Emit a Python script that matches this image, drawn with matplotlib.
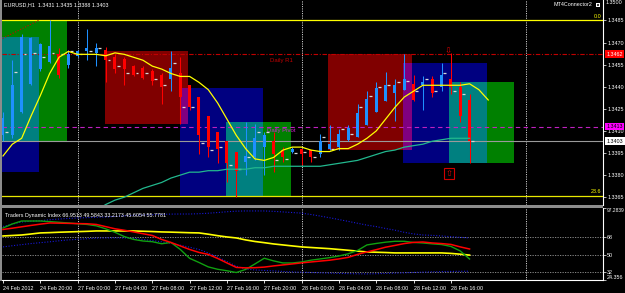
import numpy as np
import pandas as pd
import matplotlib
matplotlib.use('Agg')
import matplotlib.pyplot as plt
from matplotlib.patches import Rectangle
from matplotlib import transforms

plt.rcParams['font.family'] = ['Liberation Sans', 'DejaVu Sans']

# ---- data -------------------------------------------------------------
# H1 bars, 24 Feb 16:00 .. 28 Feb 18:00 (weekend skipped)
times = list(pd.date_range('2012-02-24 16:00', periods=8, freq='h')) + \
        list(pd.date_range('2012-02-27 00:00', periods=43, freq='h'))

opens = [1.3407, 1.3407, 1.3423, 1.3442, 1.3452, 1.3457, 1.3462, 1.3455, 1.3461, 1.3464,
         1.3463, 1.3465, 1.3460, 1.3459, 1.3454, 1.3453, 1.3451, 1.3448, 1.3445, 1.3449,
         1.3441, 1.3433, 1.3420, 1.3409, 1.3403, 1.3396, 1.3389, 1.3392, 1.3399, 1.3403,
         1.3397, 1.3396, 1.3398, 1.3397, 1.3394, 1.3398, 1.3399, 1.3404, 1.3406, 1.3414,
         1.3423, 1.3430, 1.3436, 1.3438, 1.3442, 1.3441, 1.3445, 1.3440, 1.3445, 1.3440,
         1.3431]
highs = [1.3423, 1.3458, 1.3476, 1.3474, 1.3470, 1.3485, 1.3466, 1.3465, 1.3465, 1.3479,
         1.3470, 1.3467, 1.3462, 1.3460, 1.3455, 1.3454, 1.3452, 1.3449, 1.3464, 1.3460,
         1.3441, 1.3433, 1.3420, 1.3409, 1.3403, 1.3396, 1.3416, 1.3415, 1.3409, 1.3409,
         1.3399, 1.3399, 1.3398, 1.3397, 1.3408, 1.3414, 1.3411, 1.3414, 1.3428, 1.3437,
         1.3443, 1.3450, 1.3445, 1.3462, 1.3448, 1.3447, 1.3447, 1.3456, 1.3463, 1.3443,
         1.3435]
lows = [1.3403, 1.3405, 1.3422, 1.3441, 1.3451, 1.3456, 1.3446, 1.3453, 1.3460, 1.3458,
        1.3454, 1.3443, 1.3449, 1.3441, 1.3447, 1.3445, 1.3441, 1.3428, 1.3437, 1.3415,
        1.3424, 1.3394, 1.3392, 1.3388, 1.3375, 1.3365, 1.3380, 1.3390, 1.3380, 1.3382,
        1.3389, 1.3395, 1.3387, 1.3389, 1.3392, 1.3397, 1.3397, 1.3403, 1.3406, 1.3414,
        1.3423, 1.3430, 1.3417, 1.3438, 1.3430, 1.3424, 1.3433, 1.3437, 1.3435, 1.3416,
        1.3388]
closes = [1.3419, 1.3441, 1.3474, 1.3473, 1.3469, 1.3468, 1.3448, 1.3462, 1.3464, 1.3466,
          1.3466, 1.3458, 1.3452, 1.3452, 1.3448, 1.3446, 1.3444, 1.3440, 1.3453, 1.3433,
          1.3426, 1.3407, 1.3399, 1.3398, 1.3388, 1.3383, 1.3393, 1.3405, 1.3407, 1.3394,
          1.3392, 1.3398, 1.3394, 1.3392, 1.3403, 1.3401, 1.3408, 1.3412, 1.3422, 1.3432,
          1.3439, 1.3441, 1.3441, 1.3445, 1.3431, 1.3443, 1.3436, 1.3448, 1.3440, 1.3420,
          1.3403]
# little grey ticks drawn next to the candles by some indicator
marks = [1.3409, 1.3450, 1.3462, 1.3463, 1.3460, 1.3463, 1.3462, 1.3464, 1.3462, 1.3464,
         1.3466, 1.3458, 1.3454, 1.3449, 1.3449, 1.3449, 1.3445, 1.3441, 1.3456, 1.3426,
         1.3426, 1.3402, 1.3397, 1.3399, 1.3387, 1.3384, 1.3392, 1.3409, 1.3409, 1.3390,
         1.3391, 1.3395, 1.3396, 1.3392, 1.3406, 1.3398, 1.3411, 1.3408, 1.3426, 1.3434,
         1.3440, 1.3441, 1.3443, 1.3444, 1.3437, 1.3445, 1.3437, 1.3449, 1.3437, 1.3435,
         1.3403]

# yellow MA is shifted 2 bars forward
fast_ma = [1.3393, 1.3401, 1.3405, 1.3420, 1.3434, 1.3449, 1.3460, 1.3464, 1.3462, 1.3462,
           1.3462, 1.3461, 1.3463, 1.3462, 1.3460, 1.3458, 1.3454, 1.3452, 1.3449, 1.3447,
           1.3447, 1.3443, 1.3438, 1.3429, 1.3418, 1.3407, 1.3398, 1.3391, 1.3390, 1.3392,
           1.3397, 1.3399, 1.3399, 1.3397, 1.3396, 1.3396, 1.3398, 1.3398, 1.3401, 1.3405,
           1.3410, 1.3418, 1.3426, 1.3433, 1.3437, 1.3441, 1.3441, 1.3441, 1.3441, 1.3441,
           1.3442, 1.3438, 1.3431]
slow_start = 10
slow_ma = [1.3356, 1.3360, 1.3363, 1.3365, 1.3368, 1.3371, 1.3373, 1.3375, 1.3378, 1.3380,
           1.3382, 1.3382, 1.3383, 1.3383, 1.3384, 1.3384, 1.3384, 1.3385, 1.3385, 1.3386,
           1.3386, 1.3386, 1.3386, 1.3386, 1.3386, 1.3387, 1.3388, 1.3389, 1.3390, 1.3392,
           1.3394, 1.3396, 1.3397, 1.3399, 1.3400, 1.3401, 1.3403, 1.3404, 1.3405, 1.3405,
           1.3405]

# supply / demand boxes: (first bar, last bar, top, bottom, colour)
zones = [(-0.2, 6.9, 1.3485, 1.3403, '#008000'),
         (-0.2, 3.9, 1.3474, 1.3382, '#000080'),
         (10.9, 19.8, 1.3464, 1.3415, '#800000'),
         (19.0, 27.9, 1.3439, 1.3365, '#000080'),
         (23.9, 30.9, 1.3416, 1.3365, '#008000'),
         (34.8, 43.8, 1.3462, 1.3397, '#800000'),
         (42.9, 51.9, 1.3456, 1.3388, '#000080'),
         (47.8, 54.8, 1.3443, 1.3388, '#008000')]

fib_0, fib_236 = 1.3485, 1.3366
daily_r1, daily_pivot, bid = 1.3462, 1.3413, 1.3403
trend_x, trend_y = [-0.3, 3.8], [1.3472, 1.3485]
price_ticks = [1.3485, 1.3470, 1.3455, 1.3440, 1.3425, 1.3410, 1.3395, 1.3380, 1.3365]

# Traders Dynamic Index
tdi_up = [78.7, 81.0, 83.2, 84.0, 84.5, 85.5, 86.2, 86.8, 87.3, 87.6,
          88.0, 88.3, 88.8, 89.4, 90.0, 90.3, 90.6, 90.9, 91.2, 91.3,
          91.3, 91.6, 92.1, 92.8, 93.6, 94.2, 94.4, 94.4, 94.4, 94.0,
          93.4, 92.8, 92.2, 90.8, 89.2, 87.5, 85.7, 83.8, 81.9, 80.0,
          78.5, 76.6, 74.9, 72.7, 71.1, 70.0, 69.6, 69.0, 68.3, 67.6, 66.95]
tdi_mid = [69.0, 69.5, 70.0, 71.0, 72.1, 72.4, 72.8, 73.1, 73.4, 73.7,
           74.1, 74.1, 74.1, 74.1, 74.1, 73.8, 73.5, 73.1, 72.9, 72.6,
           72.3, 72.1, 70.8, 69.3, 68.0, 67.0, 65.0, 63.4, 62.2, 60.9,
           59.9, 58.9, 57.9, 57.3, 56.7, 56.1, 55.3, 54.5, 53.6, 52.8,
           52.5, 52.2, 51.8, 51.8, 51.8, 51.8, 51.8, 51.8, 51.3, 50.5, 49.58]
tdi_dn = [57.9, 59.1, 60.2, 61.3, 62.2, 63.1, 64.1, 65.0, 65.6, 66.2,
          66.8, 67.0, 67.0, 67.0, 66.5, 65.5, 64.3, 63.1, 61.6, 59.6,
          57.6, 55.3, 51.8, 47.7, 43.0, 38.4, 35.4, 34.5, 34.0, 33.5,
          33.0, 32.5, 32.2, 31.9, 31.6, 31.3, 31.0, 30.8, 30.6, 30.5,
          30.7, 31.0, 31.3, 31.6, 32.0, 32.3, 32.6, 32.8, 33.0, 33.1, 33.22]
tdi_rsi = [77.1, 81.2, 84.2, 84.2, 84.2, 83.6, 82.9, 82.2, 81.4, 80.7,
           79.3, 76.3, 72.7, 68.4, 65.5, 63.9, 63.2, 61.1, 62.4, 55.3,
           46.3, 42.1, 37.6, 35.2, 33.7, 31.9, 35.0, 40.6, 46.4, 43.7,
           41.6, 41.6, 42.6, 44.4, 45.7, 47.0, 48.7, 50.9, 54.3, 59.9,
           61.4, 62.7, 63.6, 63.6, 62.4, 61.9, 61.0, 60.3, 58.4, 53.8, 45.61]
tdi_sig = [75.6, 76.9, 78.3, 79.7, 81.0, 82.2, 82.0, 81.8, 81.6, 81.4,
           80.7, 78.5, 76.3, 74.8, 73.1, 71.3, 69.5, 65.5, 62.4, 58.9,
           55.3, 52.3, 50.3, 46.2, 41.6, 37.1, 36.6, 36.8, 37.4, 38.6,
           39.6, 40.6, 41.7, 42.6, 43.5, 44.4, 45.7, 47.3, 50.3, 52.8,
           55.1, 57.6, 59.4, 61.3, 62.5, 62.9, 61.9, 61.3, 60.4, 57.9, 55.78]
tdi_levels = [68, 50, 32]

# ---- figure -----------------------------------------------------------
W, H = 625, 293
fig = plt.figure(figsize=(W / 100, H / 100), dpi=100, facecolor='black')


def px_axes(x0, y0, x1, y1):
    return fig.add_axes([x0 / W, 1 - y1 / H, (x1 - x0) / W, (y1 - y0) / H])


def px_rect(x0, y0, x1, y1, color):
    fig.add_artist(Rectangle((x0 / W, 1 - y1 / H), (x1 - x0) / W, (y1 - y0) / H,
                             transform=fig.transFigure, color=color, lw=0))


ax = px_axes(2, 0, 603, 205)
ax2 = px_axes(2, 208, 603, 280)
XLIM = (-0.107, 64.3)
SMALL = 3.9
BLUE, RED = '#1e90ff', '#ff0000'

for a in (ax, ax2):
    a.set_facecolor('black')
    a.set_xlim(*XLIM)
    for s in a.spines.values():
        s.set_visible(False)
    a.spines['right'].set_visible(True)
    a.spines['right'].set_color('white')
    a.spines['right'].set_linewidth(0.8)
    a.yaxis.tick_right()
    a.tick_params(axis='y', colors='white', labelsize=SMALL, length=2.2, width=0.5, pad=0.8)
    # day separators
    for i, t in enumerate(times):
        if t.hour == 0:
            a.axvline(i, color='#c8c8c8', lw=0.7, ls=(0, (1.2, 1.2)), zorder=1)
    a.axvline(56, color='#c8c8c8', lw=0.7, ls=(0, (1.2, 1.2)), zorder=1)

ax.set_ylim(1.33597, 1.34989)
ax.set_xticks([])

# boxes, overlaps get the OR-ed colour like MT4 does
for k, (x0, x1, top, bot, colr) in enumerate(zones):
    ax.add_patch(Rectangle((x0, bot), x1 - x0, top - bot, color=colr, lw=0, zorder=1))
for k in range(len(zones)):
    for j in range(k + 1, len(zones)):
        a0, a1, at, ab, ac = zones[k]
        b0, b1, bt, bb, bc = zones[j]
        lo_x, hi_x = max(a0, b0), min(a1, b1)
        lo_y, hi_y = max(ab, bb), min(at, bt)
        if lo_x < hi_x and lo_y < hi_y:
            mix = '#%06x' % (int(ac[1:], 16) | int(bc[1:], 16))
            ax.add_patch(Rectangle((lo_x, lo_y), hi_x - lo_x, hi_y - lo_y,
                                   color=mix, lw=0, zorder=1.1))

# levels
ax.axhline(fib_0, color='#ffff00', lw=0.9, zorder=2)
ax.axhline(fib_236, color='#e8e800', lw=0.9, zorder=2)
ax.axhline(daily_r1, color='#c00000', lw=0.8, ls=(0, (4, 1.5, 1, 1.5)), zorder=2)
ax.axhline(daily_pivot, color='#c020c0', lw=0.8, ls=(0, (4, 3)), zorder=2)
ax.axhline(bid, color='#9a9a9a', lw=0.8, zorder=2)
ax.plot(trend_x, trend_y, color='#d00000', lw=0.8, ls=(0, (1, 1.5)), zorder=2)

blend = transforms.blended_transform_factory(ax.transAxes, ax.transData)
ax.text(0.997, fib_0 + 0.00012, '0.0', transform=blend, ha='right', va='bottom',
        color='#ffff00', fontsize=SMALL)
ax.text(0.997, fib_236 + 0.00012, '23.6', transform=blend, ha='right', va='bottom',
        color='#ffff00', fontsize=SMALL)
ax.text(28.6, daily_r1 - 0.0004, 'Daily R1', color='#c00000', fontsize=4.3,
        ha='left', va='center', zorder=3)
ax.text(28.3, daily_pivot - 0.0003, 'Daily Pivot', color='#d020d0', fontsize=4.3,
        ha='left', va='center', zorder=3)

# candles
idx = np.arange(len(opens))
o, h, l, c = map(np.array, (opens, highs, lows, closes))
col = np.where(c >= o, BLUE, RED)
ax.vlines(idx, l, h, colors=col, lw=0.75, zorder=4)
body_lo = np.minimum(o, c)
body_h = np.maximum(np.abs(c - o), 0.00008)
ax.bar(idx, body_h, 0.32, bottom=body_lo, color=col, lw=0, zorder=4)
ax.hlines(marks, idx + 0.2, idx + 0.5, colors='#d8d8d8', lw=0.9, zorder=5)

# moving averages
ax.plot(np.arange(len(fast_ma)), fast_ma, color='#ffff00', lw=0.9, zorder=6)
ax.plot(np.arange(slow_start, slow_start + len(slow_ma)), slow_ma,
        color='#22b88e', lw=0.9, zorder=6)

# signal arrows
ax.text(47.7, 1.3464, '\u21e9', color='#e00000', fontsize=6, ha='center', va='center',
        family='DejaVu Sans', zorder=7)
ax.text(47.8, 1.3381, '\u21e7', color='#e00000', fontsize=6, ha='center', va='center',
        family='DejaVu Sans', zorder=7,
        bbox=dict(boxstyle='square,pad=0.15', fc='none', ec='#d00000', lw=0.8))

# right price scale
ax.set_yticks(price_ticks)
ax.set_yticklabels(['%.4f' % p for p in price_ticks])
for p, fc, tc in [(daily_r1, '#ff0000', 'white'), (daily_pivot, '#ff00ff', 'black'),
                  (bid, 'white', 'black')]:
    ax.text(1.006, p, '%.4f' % p, transform=blend, ha='left', va='center', color=tc,
            fontsize=SMALL, clip_on=False, zorder=8,
            bbox=dict(boxstyle='square,pad=0.25', fc=fc, ec='none'))

# ---- TDI panel ----------------------------------------------------------
ax2.set_ylim(24.3, 97.4)
ti = np.arange(len(tdi_mid))
for lv in tdi_levels:
    ax2.axhline(lv, color='#9a9a9a', lw=0.6, ls=(0, (1.5, 1.5)), zorder=1)
ax2.plot(ti, tdi_up, color='#1818d8', lw=0.8, ls=(0, (1, 1.5)), zorder=2)
ax2.plot(ti, tdi_dn, color='#1818d8', lw=0.8, ls=(0, (1, 1.5)), zorder=2)
ax2.plot(ti, tdi_mid, color='#ffff00', lw=1.2, zorder=3)
ax2.plot(ti, tdi_rsi, color='#10a010', lw=1.0, zorder=4)
ax2.plot(ti, tdi_sig, color='#ff0000', lw=1.1, zorder=5)

tdi_ticks = [97.2839, 68, 50, 32, 24.356]
ax2.set_yticks(tdi_ticks)
ax2.set_yticklabels(['97.2839', '68', '50', '32', '24.356'])
labs = ax2.get_yticklabels()
labs[0].set_va('top')
labs[0].set_fontsize(3.5)
labs[-1].set_va('bottom')

ax2.spines['bottom'].set_visible(True)
ax2.spines['bottom'].set_color('white')
ax2.spines['bottom'].set_linewidth(0.8)
tick_pos = list(range(0, len(times), 4))
tick_lab = ['24 Feb 2012' if k == 0 else times[k].strftime('%d %b %H:%M') for k in tick_pos]
ax2.set_xticks(tick_pos)
ax2.set_xticklabels(tick_lab, ha='left')
ax2.tick_params(axis='x', colors='white', labelsize=SMALL, length=2.5, width=0.6, pad=1.5)
ax2.text(0.005, 0.93, 'Traders Dynamic Index 66.9513 49.5843 33.2173 45.6054 55.7781',
         transform=ax2.transAxes, color='white', fontsize=SMALL, ha='left', va='top')

# ---- window chrome ----------------------------------------------------------
px_rect(0, 205, 603, 208, '#8c8c8c')
px_rect(0, 0, 2, 281, '#8c8c8c')
fig.text(4 / W, 1 - 4.5 / H, 'EURUSD,H1  1.3431 1.3435 1.3388 1.3403', color='white',
         fontsize=SMALL, ha='left', va='center')
fig.text(554 / W, 1 - 5 / H, 'MT4Connector2', color='white', fontsize=SMALL,
         ha='left', va='center')
px_rect(596, 3, 600, 7, 'white')
px_rect(597, 4, 599, 6, '#404040')
fig.text(606 / W, 1 - 0.5 / H, '1.3500', color='white', fontsize=SMALL,
         ha='left', va='top')

fig.savefig('out.png', dpi=100, facecolor='black')
